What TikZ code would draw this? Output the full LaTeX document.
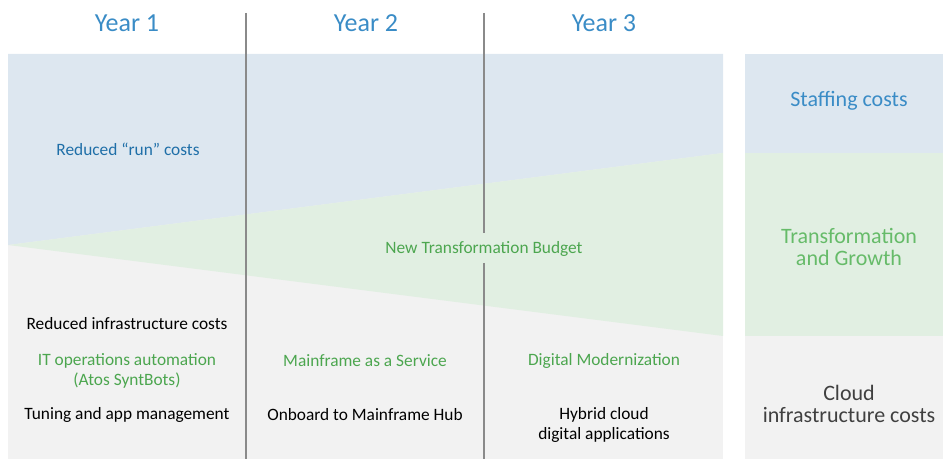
\documentclass[tikz,border=0pt]{standalone}
\usepackage{fontspec}
\setmainfont{Carlito}
\usetikzlibrary{positioning}

\definecolor{runfill}{HTML}{DDE7F0}
\definecolor{growfill}{HTML}{E1EFE2}
\definecolor{infrafill}{HTML}{F2F2F2}
\definecolor{yearblue}{HTML}{3A8CC6}
\definecolor{runblue}{HTML}{1F6FA8}
\definecolor{growgreen}{HTML}{4CA64F}
\definecolor{lightgreen}{HTML}{66BB69}
\definecolor{divider}{HTML}{8A8A8A}

\tikzset{
  yearlabel/.style={text=yearblue, font=\fontsize{19.5}{24}\selectfont},
  smalltext/.style={align=center, font=\fontsize{13}{15}\selectfont},
  bigtext/.style={align=center, font=\fontsize{16.5}{16.5}\selectfont},
  yearline/.style={draw=divider, line width=0.9pt}
}

\begin{document}
\begin{tikzpicture}[x=0.75pt,y=-0.75pt]
    \useasboundingbox (0,0) rectangle (943,459);

    % main panel (three bands)
    \fill[infrafill] (8,54) rectangle (723,459);
    \fill[runfill] (8,54) -- (723,54) -- (723,153) -- (8,245) -- cycle;
    \fill[growfill] (8,245) -- (723,153) -- (723,336) -- cycle;

    % side panel
    \fill[runfill] (745,54) rectangle (943,153);
    \fill[growfill] (745,153) rectangle (943,336);
    \fill[infrafill] (745,336) rectangle (943,459);

    % year dividers
    \coordinate (div1top) at (246,13);
    \coordinate (div1bot) at (246,459);
    \coordinate (div2top) at (484,13);
    \coordinate (div2gapA) at (484,233);
    \coordinate (div2gapB) at (484,263);
    \coordinate (div2bot) at (484,459);
    \draw[yearline] (div1top) -- (div1bot);
    \draw[yearline] (div2top) -- (div2gapA);
    \draw[yearline] (div2gapB) -- (div2bot);

    % years
    \node[yearlabel] (year1) at (127,23) {Year 1};
    \node[yearlabel] (year2) at (366,23) {Year 2};
    \node[yearlabel] (year3) at (604,23) {Year 3};

    % bands
    \node[smalltext, text=runblue] (runcosts) at (128,149) {Reduced “run” costs};
    \node[smalltext, text=growgreen] (budget) at (484,249) {New Transformation Budget};

    % year 1
    \node[smalltext] (infracosts) at (127,324) {Reduced infrastructure costs};
    \node[smalltext, text=growgreen] (automation) at (127,371) {IT operations automation\\(Atos SyntBots)};
    \node[smalltext] (tuning) at (127,415) {Tuning and app management};

    % year 2
    \node[smalltext, text=growgreen] (maas) at (365,361) {Mainframe as a Service};
    \node[smalltext] (onboard) at (365,415) {Onboard to Mainframe Hub};

    % year 3
    \node[smalltext, text=growgreen] (digital) at (604,361) {Digital Modernization};
    \node[smalltext] (hybrid) at (604,425) {Hybrid cloud\\digital applications};

    % side panel labels
    \node[bigtext, text=yearblue] (staffing) at (849,101) {Staffing costs};
    \node[bigtext, text=lightgreen] (transform) at (849,247) {Transformation\\and Growth};
    \node[bigtext, text=black!75] (cloud) at (849,404) {Cloud\\infrastructure costs};

\end{tikzpicture}
\end{document}
